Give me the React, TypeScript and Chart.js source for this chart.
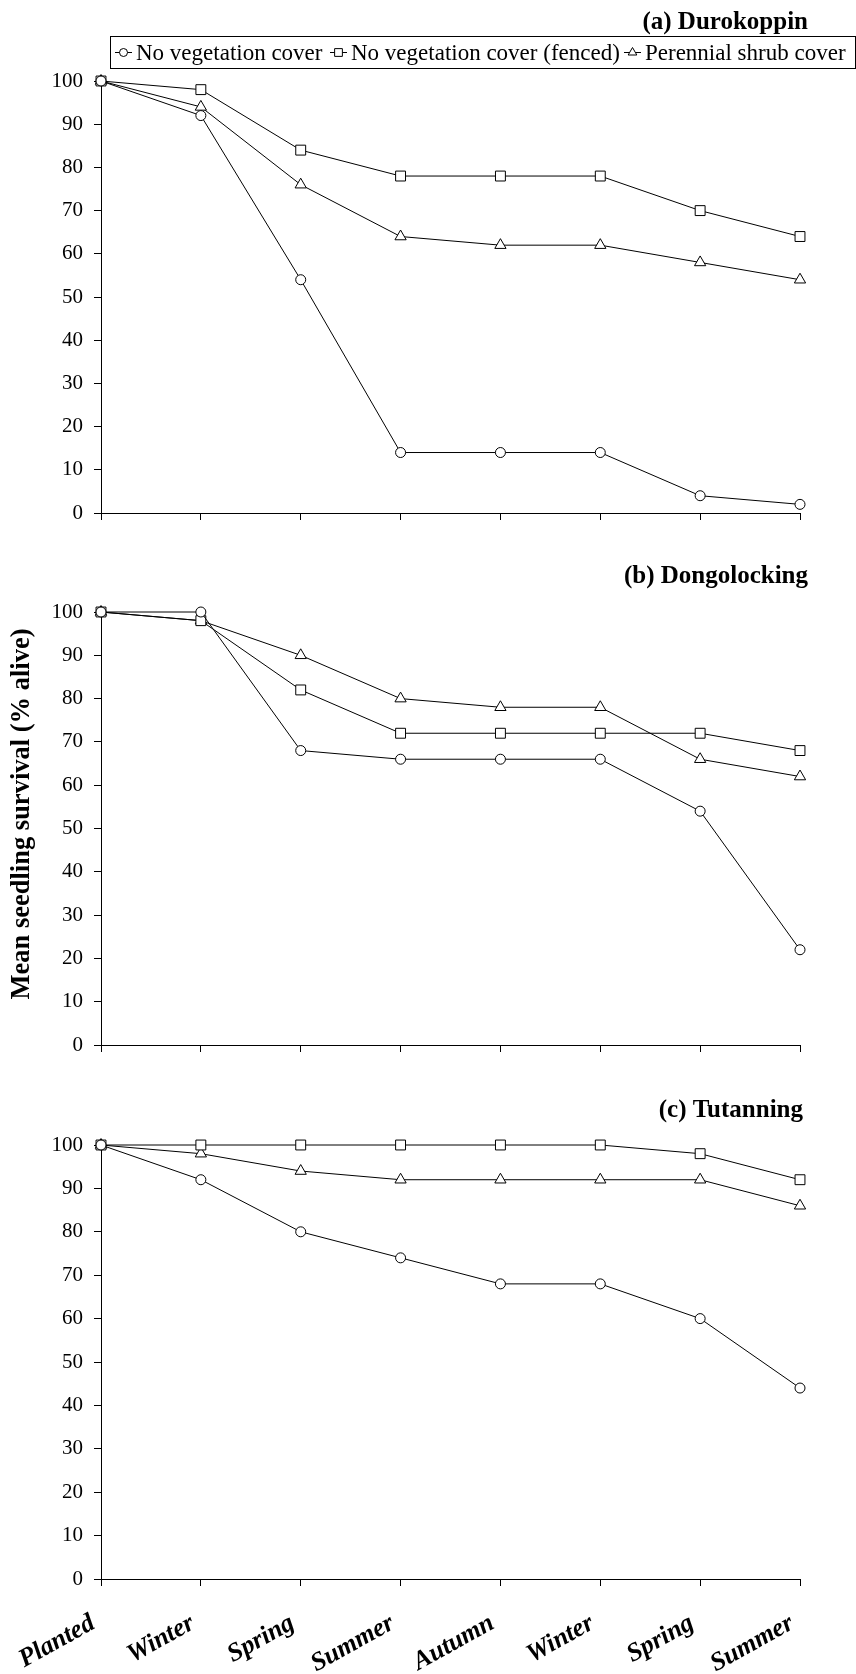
import React, { useEffect, useRef } from "react";
import { Chart, registerables } from "chart.js";

Chart.register(...registerables);

// ---------- data ----------
const categories = ["Planted", "Winter", "Spring", "Summer", "Autumn", "Winter", "Spring", "Summer"];
const seriesNames = ["No vegetation cover", "No vegetation cover (fenced)", "Perennial shrub cover"];

const durokoppinNoCover = [100, 92, 54, 14, 14, 14, 4, 2];
const durokoppinFenced = [100, 98, 84, 78, 78, 78, 70, 64];
const durokoppinShrub = [100, 94, 76, 64, 62, 62, 58, 54];

const dongolockingNoCover = [100, 100, 68, 66, 66, 66, 54, 22];
const dongolockingFenced = [100, 98, 82, 72, 72, 72, 72, 68];
const dongolockingShrub = [100, 98, 90, 80, 78, 78, 66, 62];

const tutanningNoCover = [100, 92, 80, 74, 68, 68, 60, 44];
const tutanningFenced = [100, 100, 100, 100, 100, 100, 98, 92];
const tutanningShrub = [100, 98, 94, 92, 92, 92, 92, 86];

const panelTitles = ["(a) Durokoppin", "(b) Dongolocking", "(c) Tutanning"];
const yAxisTitle = "Mean seedling survival (% alive)";
const yMin = 0;
const yMax = 100;
const yStep = 10;

// ---------- styling / layout ----------
const FONT = "'Liberation Serif', 'Times New Roman', serif";
const W = 856;
const PLOT_RIGHT = 800;
const Y_AXIS_W = 101;
const pointStyles = ["circle", "rect", "triangle"] as const;
const pointRadii = [5, 7, 6.5];

type PanelCfg = {
  top: number;
  height: number;
  plotTop: number;
  plotBottom: number;
  titleBaseline: number;
  titleRight: number;
  showX: boolean;
  legend: boolean;
  yTitle: boolean;
  series: number[][];
  title: string;
};

const panels: PanelCfg[] = [
  { top: 0, height: 560, plotTop: 81, plotBottom: 513, titleBaseline: 29, titleRight: 808, showX: false, legend: true, yTitle: false,
    series: [durokoppinNoCover, durokoppinFenced, durokoppinShrub], title: panelTitles[0] },
  { top: 560, height: 510, plotTop: 52, plotBottom: 485, titleBaseline: 23, titleRight: 808, showX: false, legend: false, yTitle: true,
    series: [dongolockingNoCover, dongolockingFenced, dongolockingShrub], title: panelTitles[1] },
  { top: 1070, height: 604, plotTop: 75, plotBottom: 509, titleBaseline: 47, titleRight: 803, showX: true, legend: false, yTitle: false,
    series: [tutanningNoCover, tutanningFenced, tutanningShrub], title: panelTitles[2] },
];

function drawMarker(ctx: CanvasRenderingContext2D, style: string, x: number, y: number, r: number) {
  ctx.beginPath();
  if (style === "circle") {
    ctx.arc(x, y, r, 0, Math.PI * 2);
  } else if (style === "rect") {
    const s = r * Math.SQRT1_2;
    ctx.rect(x - s, y - s, 2 * s, 2 * s);
  } else {
    const h = (r * Math.sqrt(3)) / 2;
    ctx.moveTo(x, y - r);
    ctx.lineTo(x + h, y + r / 2);
    ctx.lineTo(x - h, y + r / 2);
    ctx.closePath();
  }
  ctx.fillStyle = "#fff";
  ctx.fill();
  ctx.strokeStyle = "#000";
  ctx.lineWidth = 1;
  ctx.stroke();
}

function makeDecor(p: PanelCfg) {
  return {
    id: "decor",
    afterDraw(chart: any) {
      const ctx: CanvasRenderingContext2D = chart.ctx;
      ctx.save();
      ctx.fillStyle = "#000";
      // panel title
      ctx.font = `bold 25px ${FONT}`;
      ctx.textAlign = "right";
      ctx.textBaseline = "alphabetic";
      ctx.fillText(p.title, p.titleRight, p.titleBaseline);

      if (p.legend) {
        ctx.strokeStyle = "#000";
        ctx.lineWidth = 1;
        ctx.strokeRect(110.5, 36.5, 745, 32);
        const lineStarts = [115, 330, 624];
        const textStarts = [136, 351, 645];
        const ly = 52.5;
        ctx.font = `23px ${FONT}`;
        ctx.textAlign = "left";
        ctx.textBaseline = "middle";
        lineStarts.forEach((x0, i) => {
          ctx.beginPath();
          ctx.moveTo(x0, ly);
          ctx.lineTo(x0 + 17, ly);
          ctx.strokeStyle = "#000";
          ctx.lineWidth = 1;
          ctx.stroke();
          drawMarker(ctx, pointStyles[i], x0 + 8.5, ly, [4, 5.5, 5][i]);
          ctx.fillStyle = "#000";
          ctx.fillText(seriesNames[i], textStarts[i], ly + 1);
        });
      }

      if (p.yTitle) {
        ctx.save();
        ctx.translate(22, 254);
        ctx.rotate(-Math.PI / 2);
        ctx.font = `bold 26.5px ${FONT}`;
        ctx.textAlign = "center";
        ctx.textBaseline = "middle";
        ctx.fillStyle = "#000";
        ctx.fillText(yAxisTitle, 0, 0);
        ctx.restore();
      }
      ctx.restore();
    },
  };
}

function makeChart(canvas: HTMLCanvasElement, p: PanelCfg) {
  return new Chart(canvas, {
    type: "line",
    data: {
      labels: categories,
      datasets: p.series.map((d, i) => ({
        label: seriesNames[i],
        data: d,
        borderColor: "#000",
        borderWidth: 1,
        backgroundColor: "#fff",
        pointStyle: pointStyles[i],
        pointRadius: pointRadii[i],
        pointBackgroundColor: "#fff",
        pointBorderColor: "#000",
        pointBorderWidth: 1,
        tension: 0,
        fill: false,
        clip: false as any,
      })),
    },
    options: {
      responsive: false,
      animation: false,
      devicePixelRatio: 1,
      layout: { padding: { top: p.plotTop, bottom: 0, left: 0, right: W - PLOT_RIGHT } },
      plugins: { legend: { display: false }, title: { display: false }, tooltip: { enabled: false } },
      events: [],
      scales: {
        x: {
          type: "category",
          offset: false,
          grid: { display: true, drawOnChartArea: false, drawTicks: true, tickLength: 7, color: "#000", lineWidth: 1 },
          border: { display: true, color: "#000", width: 1 },
          ticks: {
            display: p.showX,
            autoSkip: false,
            maxRotation: 29,
            minRotation: 29,
            padding: 22,
            labelOffset: -8,
            color: "#000",
            font: { family: FONT, size: 26, weight: "bold", style: "italic" },
          },
          afterFit: (s: any) => {
            s.height = p.height - p.plotBottom;
          },
        },
        y: {
          min: yMin,
          max: yMax,
          grid: { display: true, drawOnChartArea: false, drawTicks: true, tickLength: 7, color: "#000", lineWidth: 1 },
          border: { display: true, color: "#000", width: 1 },
          ticks: { stepSize: yStep, padding: 11, color: "#000", font: { family: FONT, size: 21 } },
          afterFit: (s: any) => {
            s.width = Y_AXIS_W;
          },
        },
      },
    } as any,
    plugins: [makeDecor(p)],
  });
}

export default function App() {
  const refs = [useRef<HTMLCanvasElement>(null), useRef<HTMLCanvasElement>(null), useRef<HTMLCanvasElement>(null)];

  useEffect(() => {
    document.body.style.margin = "0";
    const charts = panels.map((p, i) => makeChart(refs[i].current as HTMLCanvasElement, p));
    return () => charts.forEach((c) => c.destroy());
  }, []);

  return (
    <div style={{ position: "relative", width: W, height: 1674, background: "#fff" }}>
      {panels.map((p, i) => (
        <canvas
          key={i}
          ref={refs[i]}
          width={W}
          height={p.height}
          style={{ position: "absolute", left: 0, top: p.top, width: W, height: p.height }}
        />
      ))}
    </div>
  );
}
